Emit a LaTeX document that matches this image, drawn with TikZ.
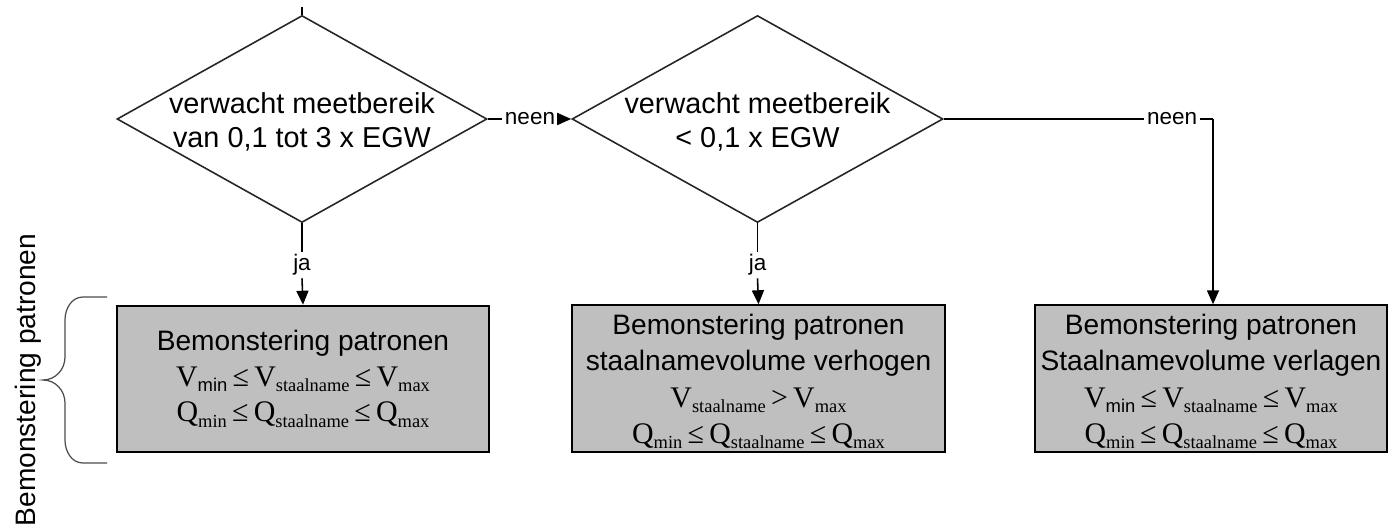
\documentclass[tikz,border=0pt]{standalone}
\usepackage{fontspec}
\setmainfont{Liberation Sans}
\newfontfamily\tnr{Liberation Serif}
\usetikzlibrary{shapes.geometric,arrows.meta}
\definecolor{boxgray}{RGB}{191,191,191}
\newcommand{\lo}[1]{\raisebox{-3pt}{\fontsize{10.5}{12}\selectfont #1}}
\newcommand{\lte}{\hspace{3pt}{\tnr\fontsize{17}{20}\selectfont ≤}\hspace{3pt}}
\newcommand{\gtr}{\hspace{3pt}{\tnr\fontsize{17}{20}\selectfont >}\hspace{3pt}}
\newcommand{\myV}{{\tnr\fontsize{17}{20}\selectfont V}}
\newcommand{\myQ}{{\tnr\fontsize{17}{20}\selectfont Q}}
\tikzset{
  dec/.style={draw=black!85, line width=0.9pt, shape=diamond, minimum width=7.4cm, minimum height=4.14cm, inner sep=0pt},
  dtext/.style={align=center, font=\fontsize{16.4}{19.8}\selectfont, inner sep=0pt},
  box/.style={draw=black, line width=1.1pt, fill=boxgray, minimum height=2.93cm, align=center, inner sep=0pt, font=\fontsize{16}{20.2}\selectfont},
  lbl/.style={font=\fontsize{12.8}{14}\selectfont, inner sep=1.5pt},
  conn/.style={line width=0.9pt, draw=black},
  arr/.style={conn, -{Triangle[length=0.28cm,width=0.24cm]}},
  bracestyle/.style={draw=black!70, line width=0.7pt}
}
\begin{document}
\begin{tikzpicture}
\useasboundingbox (0,0) rectangle (27.78,-10.6);
% decisions
\coordinate (top) at (6.04,-0.14);
\node[dec] (d1) at (6.04,-2.38) {};
\node[dtext] (t1) at (6.04,-2.44) {verwacht meetbereik\\van 0,1 tot 3 x EGW};
\node[dec, minimum width=7.42cm] (d2) at (15.15,-2.38) {};
\node[dtext] (t2) at (15.15,-2.44) {verwacht meetbereik\\< 0,1 x EGW};
% boxes
\node[box, minimum width=7.44cm] (b1) at (6.06,-7.58) {Bemonstering patronen\\
  \myV\lo{min}\lte\myV\lo{\tnr staalname}\lte\myV\lo{\tnr max}\\
  \myQ\lo{\tnr min}\lte\myQ\lo{\tnr staalname}\lte\myQ\lo{\tnr max}};
\node[box, minimum width=7.46cm] (b2) at (15.17,-7.57) {\rule{0pt}{15pt}Bemonstering patronen\\
  \makebox[0pt][c]{staalnamevolume verhogen}\\[1pt]
  \myV\lo{\tnr staalname}\gtr\myV\lo{\tnr max}\\
  \myQ\lo{\tnr min}\lte\myQ\lo{\tnr staalname}\lte\myQ\lo{\tnr max}};
\node[box, minimum width=7.04cm] (b3) at (24.22,-7.57) {\rule{0pt}{15pt}Bemonstering patronen\\
  \makebox[0pt][c]{Staalnamevolume verlagen}\\[1pt]
  \myV\lo{min}\lte\myV\lo{\tnr staalname}\lte\myV\lo{\tnr max}\\
  \myQ\lo{\tnr min}\lte\myQ\lo{\tnr staalname}\lte\myQ\lo{\tnr max}};
% labels
\node[lbl] (n1) at (10.6,-2.38) {neen};
\node[lbl] (j1) at (6.04,-5.3) {ja};
\node[lbl] (j2) at (15.15,-5.3) {ja};
\node[lbl] (n2) at (23.44,-2.38) {neen};
\coordinate (c3) at (24.26,-2.38);
% connectors
\draw[conn] (top) -- (d1.north);
\draw[conn] (d1.east) -- (n1.west);
\draw[arr] (n1.east) -- (d2.west);
\draw[conn] (d1.south) -- (j1.north);
\draw[arr] (j1.south) -- (b1.north);
\draw[conn] (d2.south) -- (j2.north);
\draw[arr] (j2.south) -- (b2.north);
\draw[conn] (d2.east) -- (n2.west);
\draw[conn] (n2.east) -- (c3);
\draw[arr] (c3) -- (c3 |- b3.north);
% brace and side label
\draw[bracestyle] (2.14,-5.94) -- (1.66,-5.94) to[out=180,in=90] (1.3,-6.4) -- (1.3,-7.14)
  to[out=270,in=0] (0.86,-7.6) to[out=0,in=90] (1.3,-8.06) -- (1.3,-8.8)
  to[out=270,in=180] (1.66,-9.26) -- (2.14,-9.26);
\node[rotate=90, anchor=base, font=\fontsize{16}{19}\selectfont, inner sep=0pt] (side) at (0.70,-7.6) {Bemonstering patronen};
\end{tikzpicture}
\end{document}
